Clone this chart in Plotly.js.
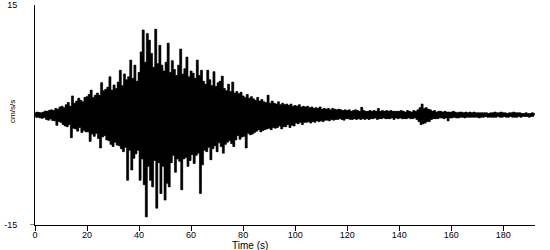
<!DOCTYPE html>
<html>
<head>
<meta charset="utf-8">
<script src="https://cdn.plot.ly/plotly-3.0.1.min.js"></script>
<style>html,body{margin:0;padding:0;background:#fff;}#chart{width:550px;height:250px;}</style>
</head>
<body>
<div id="chart"></div>
<script>
// Sample interval of the record (s)
const dt = 0.4;
// Acceleration samples (cm/s/s), 10 samples (4 s) per row
const accel = [
  0.3,-0.35,0.4,-0.3,0.35,-0.4,0.3,-0.45,0.4,-0.35,
  0.55,-0.6,0.5,-0.7,0.65,-0.55,0.7,-0.75,0.6,-0.8,
  0.9,-1.4,0.8,-0.9,1.1,-1.0,1.2,-1.3,1.0,-1.5,
  1.4,-1.6,1.7,-1.3,1.2,-3.1,2.6,-1.8,1.6,-1.9,
  1.9,-2.2,2.3,-1.7,2.0,-2.4,1.8,-2.1,2.4,-2.3,
  2.5,-2.3,2.8,-3.6,3.4,-2.6,2.4,-2.9,2.7,-2.5,
  3.0,-3.2,2.7,-4.5,4.4,-3.0,3.3,-2.8,3.5,-3.4,
  3.8,-3.5,5.2,-4.0,3.4,-4.3,4.1,-3.7,3.6,-4.1,
  4.5,-4.2,6.1,-4.6,4.0,-5.0,5.6,-4.4,4.8,-8.9,
  5.2,-4.8,7.5,-7.5,5.0,-5.9,6.8,-5.3,4.6,-4.8,
  5.8,-8.9,8.6,-6.0,11.6,-9.5,7.2,-13.9,11.1,-7.0,
  10.2,-8.9,8.4,-9.8,6.5,-6.2,11.7,-12.7,7.0,-6.5,
  9.5,-10.7,6.8,-7.0,6.0,-11.6,7.2,-9.3,9.8,-9.8,
  5.8,-6.5,7.4,-5.5,6.2,-7.8,5.4,-6.0,6.8,-6.3,
  9.0,-10.2,5.6,-6.0,6.3,-5.8,7.9,-7.0,5.2,-6.2,
  6.0,-5.4,5.7,-6.6,5.0,-5.5,7.5,-5.2,5.4,-10.7,
  6.1,-6.8,4.6,-4.8,4.2,-5.0,6.1,-4.4,4.8,-6.1,
  4.0,-4.6,5.9,-4.2,3.9,-5.0,4.4,-3.8,4.6,-4.3,
  5.3,-5.2,3.6,-4.0,3.3,-3.7,4.2,-3.5,3.2,-3.9,
  4.5,-4.3,3.0,-3.4,3.2,-2.8,2.9,-3.3,3.1,-3.0,
  2.6,-2.9,2.4,-4.5,2.8,-2.5,2.3,-2.7,2.5,-2.6,
  2.2,-2.4,2.0,-2.2,2.4,-2.0,1.9,-2.3,2.1,-2.1,
  1.8,-2.0,1.7,-1.9,2.7,-1.8,1.6,-2.0,1.9,-1.7,
  1.6,-1.8,1.5,-1.7,1.8,-1.5,1.4,-1.9,1.6,-1.6,
  1.4,-1.6,1.5,-1.3,1.3,-1.7,1.5,-1.4,1.2,-1.5,
  1.3,-1.1,1.2,-1.2,1.4,-1.0,1.1,-1.3,1.2,-1.0,
  1.1,-1.0,1.2,-0.9,1.0,-1.1,1.1,-0.9,0.9,-1.0,
  1.0,-0.8,0.9,-0.9,1.1,-0.8,0.8,-0.9,0.9,-0.7,
  0.8,-0.7,0.9,-0.8,0.7,-0.6,0.9,-0.7,0.8,-0.6,
  0.7,-0.6,0.8,-0.5,0.7,-0.6,0.6,-0.7,0.7,-0.5,
  0.6,-0.5,0.7,-0.6,0.5,-0.6,0.6,-0.5,0.7,-0.6,
  0.6,-0.5,0.5,-0.6,1.05,-0.5,0.6,-0.6,0.5,-0.5,
  0.5,-0.6,0.6,-0.5,0.5,-0.5,0.6,-0.4,0.5,-0.6,
  0.9,-0.5,0.5,-0.5,0.6,-0.4,0.5,-0.5,0.6,-0.5,
  0.5,-0.5,0.6,-0.4,0.5,-0.6,0.5,-0.4,0.5,-0.5,
  0.5,-0.4,0.6,-0.5,0.5,-0.5,0.4,-0.5,0.6,-0.4,
  0.5,-0.5,0.4,-0.5,0.6,-0.4,0.5,-0.6,0.7,-0.9,
  1.0,-1.3,1.5,-1.2,0.9,-1.1,1.0,-0.9,0.8,-0.9,
  0.7,-0.6,0.5,-0.5,0.6,-0.5,0.4,-0.5,0.5,-0.4,
  0.5,-0.4,0.4,-0.5,0.5,-0.4,0.4,-0.8,0.4,-0.4,
  0.4,-0.4,0.5,-0.3,0.4,-0.4,0.3,-0.4,0.4,-0.3,
  0.4,-0.3,0.3,-0.4,0.4,-0.3,0.3,-0.3,0.4,-0.3,
  0.3,-0.3,0.4,-0.3,0.3,-0.3,0.3,-0.4,0.3,-0.3,
  0.3,-0.3,0.3,-0.2,0.3,-0.3,0.2,-0.3,0.3,-0.3,
  0.3,-0.3,0.4,-0.3,0.3,-0.2,0.3,-0.3,0.4,-0.3,
  0.3,-0.2,0.3,-0.3,0.2,-0.3,0.3,-0.2,0.3,-0.3,
  0.4,-0.3,0.3,-0.3,0.3,-0.2,0.3,-0.3,0.2,-0.2,
  0.2,-0.2,0.3,-0.2,0.2,-0.3,0.2,-0.2,0.3,-0.2,
  0.2
];
const xTicks = [0, 20, 40, 60, 80, 100, 120, 140, 160, 180];
const yTicks = [-15, 15];
const xTitle = "Time (s)";
const yTitle = "cm/s/s";

const time = accel.map((_, i) => i * dt);
// split the record into its upward and downward swings (same samples, no new values)
const upT = [], upV = [], dnT = [], dnV = [];
accel.forEach((v, i) => {
  if (v >= 0) { upT.push(time[i]); upV.push(v); } else { dnT.push(time[i]); dnV.push(v); }
});

const font = {family: "Liberation Sans, Arial, sans-serif", size: 9, color: "#000"};

const swing = (xs, ys) => ({
  type: "scatter", mode: "lines", x: xs, y: ys,
  line: {color: "#000", width: 0.6, shape: "hvh"},
  fill: "tozeroy", fillcolor: "#000", hoverinfo: "skip"
});

Plotly.newPlot("chart", [
  swing(upT, upV),
  swing(dnT, dnV),
  {type: "scatter", mode: "lines", x: time, y: accel,
   line: {color: "#000", width: 1}, hoverinfo: "skip"}
], {
  width: 550,
  height: 250,
  margin: {l: 35, r: 15, t: 5, b: 25},
  paper_bgcolor: "#fff",
  plot_bgcolor: "#fff",
  showlegend: false,
  font: font,
  xaxis: {
    range: [0, 192.2],
    tickvals: xTicks,
    ticktext: xTicks.map(String),
    ticks: "outside",
    ticklen: 5,
    tickcolor: "#000",
    ticklabelstandoff: -4,
    showline: true,
    linecolor: "#000",
    linewidth: 1,
    showgrid: false,
    zeroline: false,
    tickfont: font
  },
  yaxis: {
    range: [-15, 15],
    tickvals: yTicks,
    ticktext: yTicks.map(String),
    ticks: "",
    ticklabelstandoff: 15,
    showline: true,
    linecolor: "#000",
    linewidth: 1,
    showgrid: false,
    zeroline: false,
    tickfont: font
  },
  shapes: [{
    type: "line", xref: "paper", yref: "y",
    x0: -0.01, x1: 0, y0: -15, y1: -15,
    line: {color: "#000", width: 1}
  }],
  annotations: [
    {text: xTitle, xref: "paper", yref: "paper", x: 0.43, y: -0.095,
     xanchor: "center", yanchor: "middle", showarrow: false,
     font: {family: font.family, size: 10, color: "#000"}},
    {text: yTitle, xref: "paper", yref: "paper", x: -0.044, y: 0.514,
     xanchor: "center", yanchor: "middle", showarrow: false, textangle: -90,
     font: {family: font.family, size: 8, color: "#000"}}
  ]
}, {staticPlot: true});
</script>
</body>
</html>
